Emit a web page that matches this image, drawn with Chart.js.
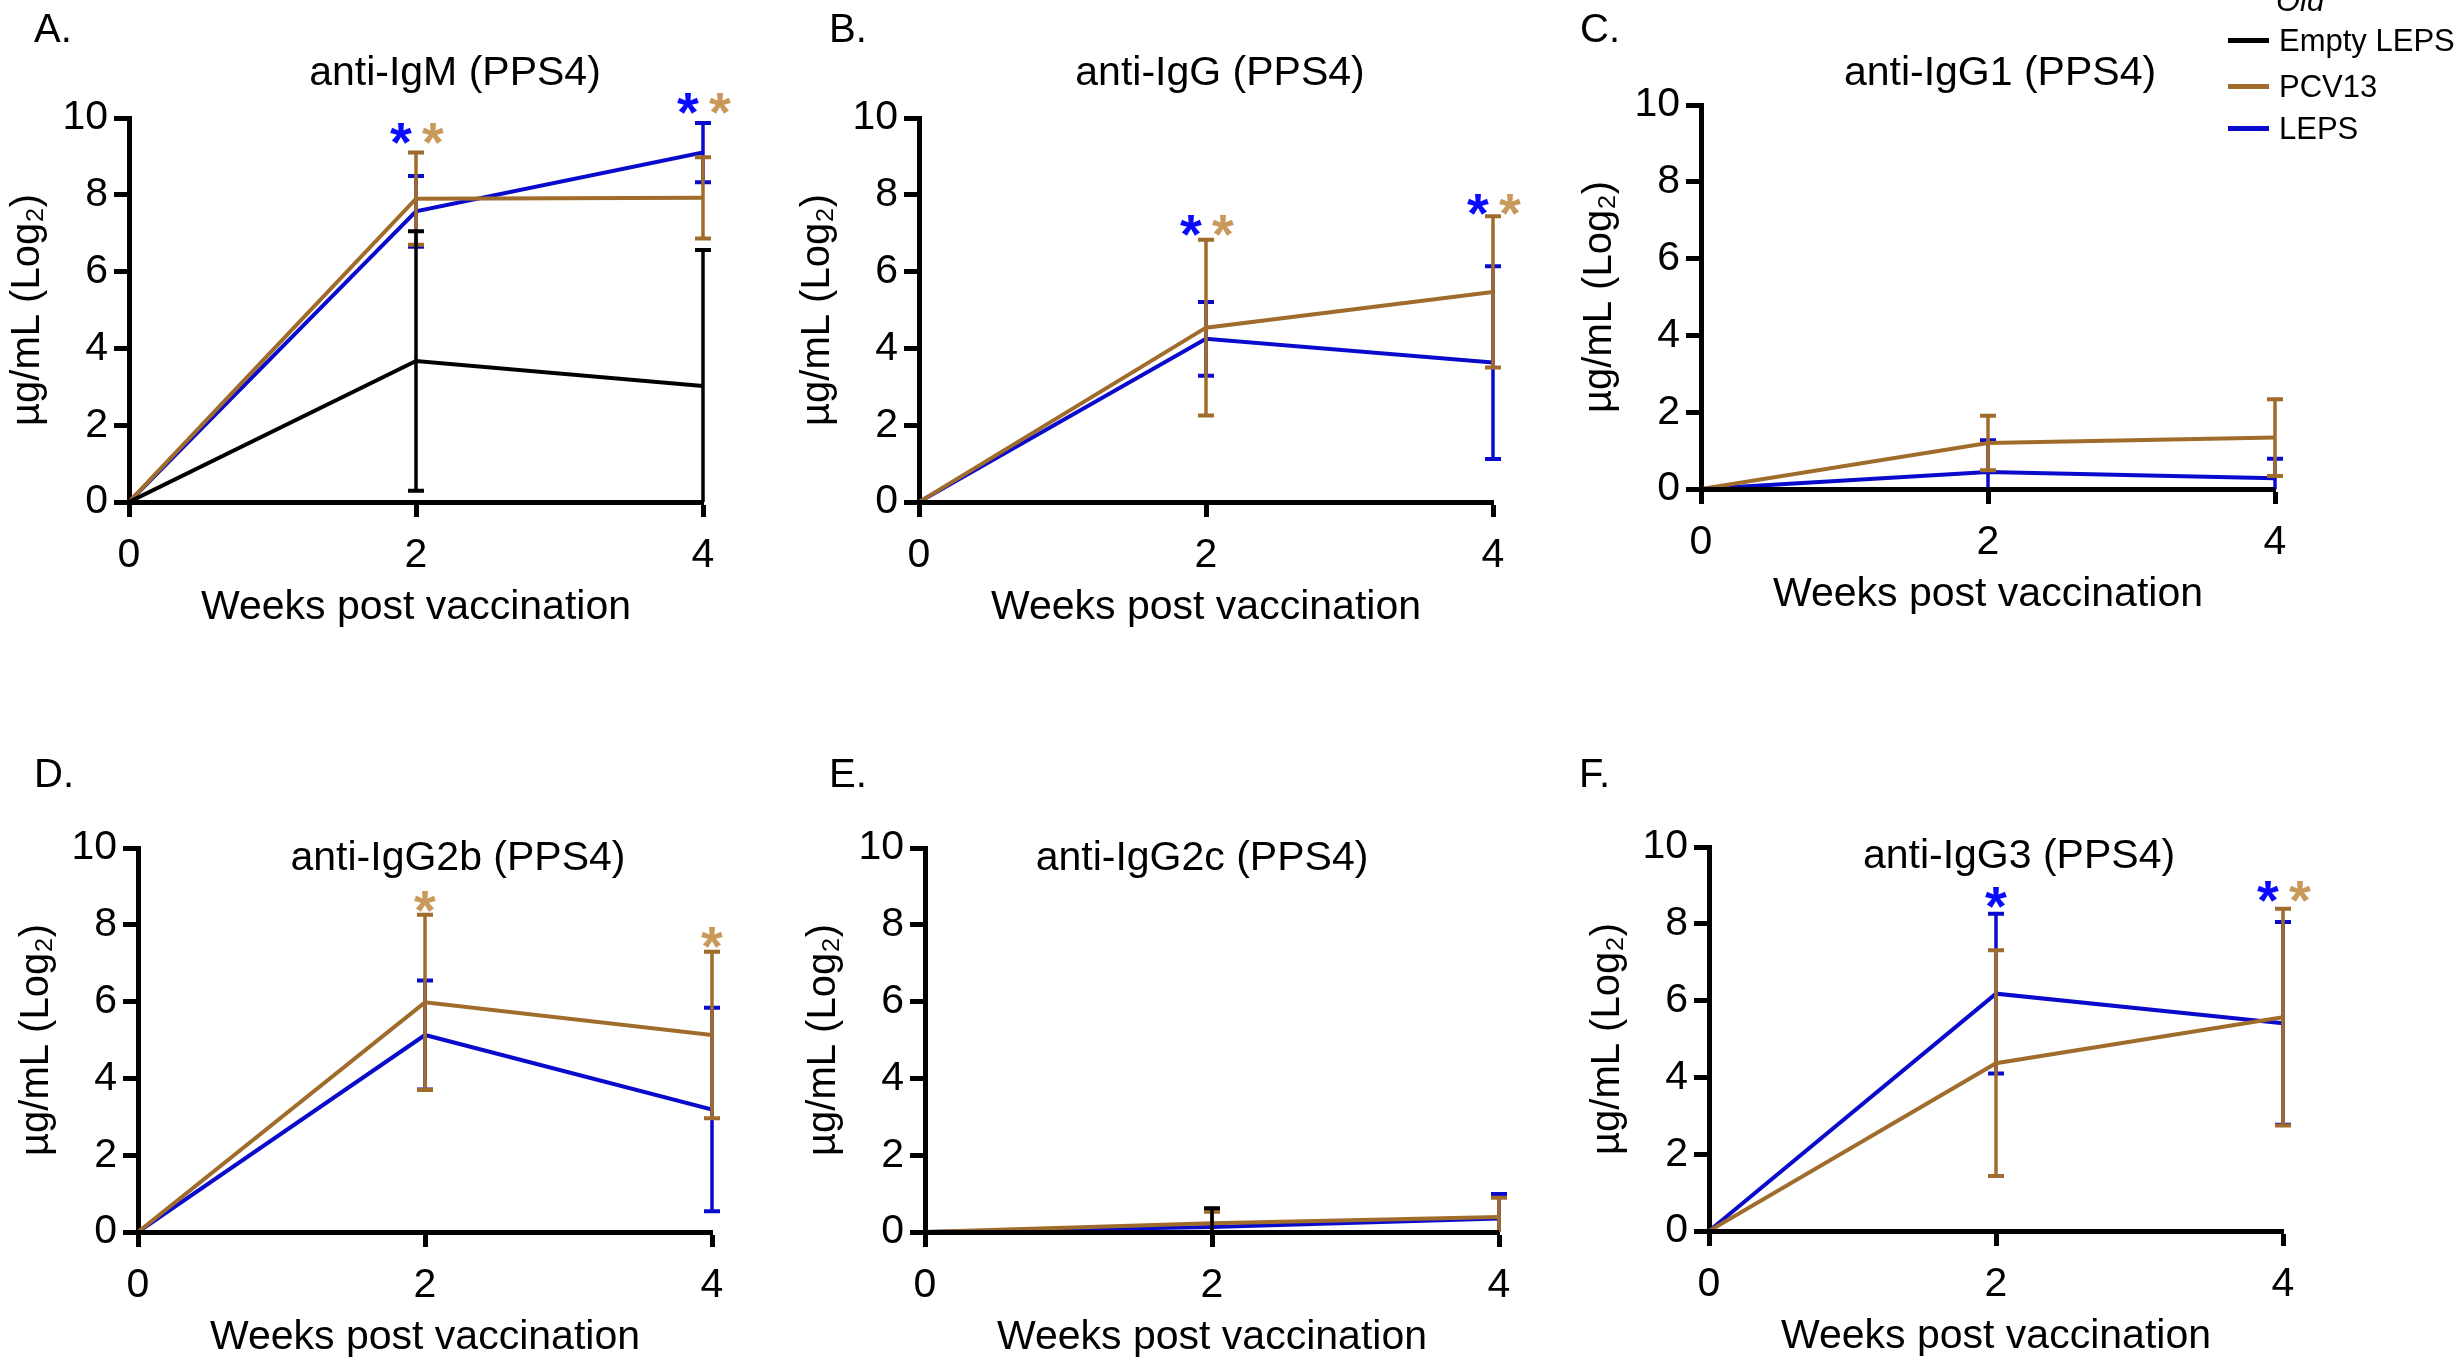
<!DOCTYPE html>
<html>
<head>
<meta charset="utf-8">
<title>PPS4 antibody responses</title>
<script src="https://cdn.jsdelivr.net/npm/chart.js@4.4.1/dist/chart.umd.min.js"></script>
<style>
  body { margin: 0; background: #fff; }
  #page { position: relative; width: 2458px; height: 1360px; overflow: hidden;
          font-family: 'Liberation Sans', Arial, sans-serif; color: #000; }
  #page canvas { position: absolute; }
  .letter { position: absolute; font-size: 40px; line-height: 1; transform: translateY(-50%); }
  .title { position: absolute; font-size: 41px; line-height: 1; white-space: nowrap;
           transform: translate(-50%, -50%); }
  .leg-line { position: absolute; left: 2228px; width: 41px; height: 5px; }
  .leg-text { position: absolute; left: 2279px; font-size: 31px; line-height: 1; white-space: nowrap;
              transform: translateY(-50%); }
</style>
</head>
<body>
<div id="page"></div>
<script>
// x values (weeks) and y ticks
const weeks = [0, 2, 4];
const yTicks = [0, 2, 4, 6, 8, 10];

const groups = ['Empty LEPS', 'PCV13', 'LEPS'];
const groupColors = ['#000000', '#a06c2c', '#0a0acc'];
const starColors = { PCV13: '#c9995c', LEPS: '#0a0aff' };

const panelLetters = ['A.', 'B.', 'C.', 'D.', 'E.', 'F.'];
const panelTitles = ['anti-IgM (PPS4)', 'anti-IgG (PPS4)', 'anti-IgG1 (PPS4)',
                     'anti-IgG2b (PPS4)', 'anti-IgG2c (PPS4)', 'anti-IgG3 (PPS4)'];

// means per panel, at weeks 0, 2, 4
const emptyMean = [[0, 3.67, 3.02], [0, 0, 0], [0, 0, 0], [0, 0, 0], [0, 0, 0], [0, 0, 0]];
const pcvMean   = [[0, 7.90, 7.92], [0, 4.54, 5.47], [0, 1.20, 1.34], [0, 5.98, 5.13], [0, 0.23, 0.39], [0, 4.37, 5.57]];
const lepsMean  = [[0, 7.57, 9.10], [0, 4.25, 3.63], [0, 0.44, 0.28], [0, 5.13, 3.19], [0, 0.13, 0.35], [0, 6.18, 5.41]];

// error (+/-) per panel
const emptyErr = [[0, 3.38, 3.54], [0, 0, 0], [0, 0, 0], [0, 0, 0], [0, 0.62, 0], [0, 0, 0]];
const pcvErr   = [[0, 1.20, 1.06], [0, 2.29, 1.97], [0, 0.71, 1.00], [0, 2.28, 2.17], [0, 0.30, 0.50], [0, 2.94, 2.82]];
const lepsErr  = [[0, 0.92, 0.77], [0, 0.96, 2.51], [0, 0.83, 0.51], [0, 1.42, 2.65], [0, 0.45, 0.64], [0, 2.08, 2.64]];

// significance stars: [week, group, height]
const stars = [
  [[2, 'LEPS', 9.7], [2, 'PCV13', 9.7], [4, 'LEPS', 10.48], [4, 'PCV13', 10.48]],
  [[2, 'LEPS', 7.32], [2, 'PCV13', 7.32], [4, 'LEPS', 7.87], [4, 'PCV13', 7.87]],
  [],
  [[2, 'PCV13', 8.71], [4, 'PCV13', 7.78]],
  [],
  [[2, 'LEPS', 8.81], [4, 'LEPS', 8.95], [4, 'PCV13', 8.95]]
];

// layout
const panelPos = [[0, 0], [790, 0], [1572, -13], [9, 730], [796, 730], [1580, 729]];
const letterPos = [[34, 28], [829, 28], [1580, 28], [34, 773], [829, 773], [1579, 773]];
const titlePos = [[455, 71], [1220, 71], [2000, 71], [458, 856], [1202, 856], [2019, 854]];
const CW = 753, CH = 632;
const FONT = "'Liberation Sans', Arial, sans-serif";
const STAR = 56;

const page = document.getElementById('page');

const errorBars = {
    id: 'errorBars',
    afterDatasetDraw(chart, args) {
        const ds = chart.data.datasets[args.index];
        if (!ds.err) return;
        const { ctx, chartArea, scales: { x, y } } = chart;
        ctx.save();
        ctx.beginPath();
        ctx.rect(chartArea.left - 30, 0, chartArea.right - chartArea.left + 60, chartArea.bottom);
        ctx.clip();
        ctx.strokeStyle = ds.borderColor;
        ds.data.forEach((p, i) => {
            const e = ds.err[i];
            if (!e) return;
            const px = x.getPixelForValue(p.x);
            const top = y.getPixelForValue(p.y + e);
            const bot = y.getPixelForValue(p.y - e);
            ctx.lineWidth = 3.5;
            ctx.beginPath();
            ctx.moveTo(px, top);
            ctx.lineTo(px, bot);
            ctx.stroke();
            ctx.lineWidth = 4;
            ctx.beginPath();
            ctx.moveTo(px - 8, top); ctx.lineTo(px + 8, top);
            ctx.moveTo(px - 8, bot); ctx.lineTo(px + 8, bot);
            ctx.stroke();
        });
        ctx.restore();
    }
};

function starPlugin(list) {
    return {
        id: 'stars',
        afterDraw(chart) {
            const { ctx, scales: { x, y } } = chart;
            ctx.save();
            ctx.font = 'bold ' + STAR + 'px ' + FONT;
            ctx.textAlign = 'center';
            ctx.textBaseline = 'alphabetic';
            list.forEach(([wk, grp, val]) => {
                const paired = list.some(s => s[0] === wk && s[1] !== grp);
                const shift = paired ? (grp === 'LEPS' ? -15 : 17) : 0;
                ctx.fillStyle = starColors[grp];
                ctx.fillText('*', x.getPixelForValue(wk) + shift, y.getPixelForValue(val) + 0.57 * STAR);
            });
            ctx.restore();
        }
    };
}

const axisGrid = len => ({
    drawOnChartArea: false, drawTicks: true, tickLength: len, tickWidth: 5, tickColor: '#000'
});

panelTitles.forEach((title, i) => {
    const canvas = document.createElement('canvas');
    canvas.width = CW;
    canvas.height = CH;
    canvas.style.left = panelPos[i][0] + 'px';
    canvas.style.top = panelPos[i][1] + 'px';
    page.appendChild(canvas);

    const means = [emptyMean[i], pcvMean[i], lepsMean[i]];
    const errs = [emptyErr[i], pcvErr[i], lepsErr[i]];

    new Chart(canvas.getContext('2d'), {
        type: 'line',
        data: {
            datasets: groups.map((g, k) => ({
                label: g,
                data: weeks.map((w, j) => ({ x: w, y: means[k][j] })),
                err: errs[k],
                borderColor: groupColors[k],
                borderWidth: 4,
                pointRadius: 0,
                tension: 0
            }))
        },
        options: {
            responsive: false,
            animation: false,
            devicePixelRatio: 1,
            layout: { padding: { left: 0, top: 118, right: 50, bottom: 0 } },
            plugins: { legend: { display: false }, tooltip: { enabled: false } },
            scales: {
                x: {
                    type: 'linear', min: 0, max: 4,
                    afterBuildTicks: s => { s.ticks = weeks.map(v => ({ value: v })); },
                    afterFit: s => { s.height = 130; },
                    grid: axisGrid(15),
                    border: { color: '#000', width: 5 },
                    ticks: { color: '#000', padding: 14, font: { family: FONT, size: 41 } },
                    title: { display: true, text: 'Weeks post vaccination', color: '#000',
                             padding: { top: 0, bottom: 0 }, font: { family: FONT, size: 41 } }
                },
                y: {
                    min: 0, max: 10,
                    afterBuildTicks: s => { s.ticks = yTicks.map(v => ({ value: v })); },
                    afterFit: s => { s.width = 129; },
                    grid: axisGrid(15),
                    border: { color: '#000', width: 5 },
                    ticks: { color: '#000', padding: 6, font: { family: FONT, size: 41 } },
                    title: { display: true, text: 'µg/mL (Log₂)', color: '#000',
                             padding: { top: 4, bottom: 0 }, font: { family: FONT, size: 40 } }
                }
            }
        },
        plugins: [errorBars, starPlugin(stars[i])]
    });

    const letter = document.createElement('div');
    letter.className = 'letter';
    letter.textContent = panelLetters[i];
    letter.style.left = letterPos[i][0] + 'px';
    letter.style.top = letterPos[i][1] + 'px';
    page.appendChild(letter);

    const t = document.createElement('div');
    t.className = 'title';
    t.textContent = title;
    t.style.left = titlePos[i][0] + 'px';
    t.style.top = titlePos[i][1] + 'px';
    page.appendChild(t);
});

// shared legend (top right)
const old = document.createElement('div');
old.className = 'leg-text';
old.style.left = '2276px';
old.style.top = '0px';
old.style.fontStyle = 'italic';
old.textContent = 'Old';
page.appendChild(old);

const legendY = [40, 86, 128];
groups.forEach((g, k) => {
    const line = document.createElement('div');
    line.className = 'leg-line';
    line.style.top = (legendY[k] - 2) + 'px';
    line.style.background = groupColors[k];
    page.appendChild(line);
    const txt = document.createElement('div');
    txt.className = 'leg-text';
    txt.style.top = legendY[k] + 'px';
    txt.textContent = g;
    page.appendChild(txt);
});
</script>
</body>
</html>
